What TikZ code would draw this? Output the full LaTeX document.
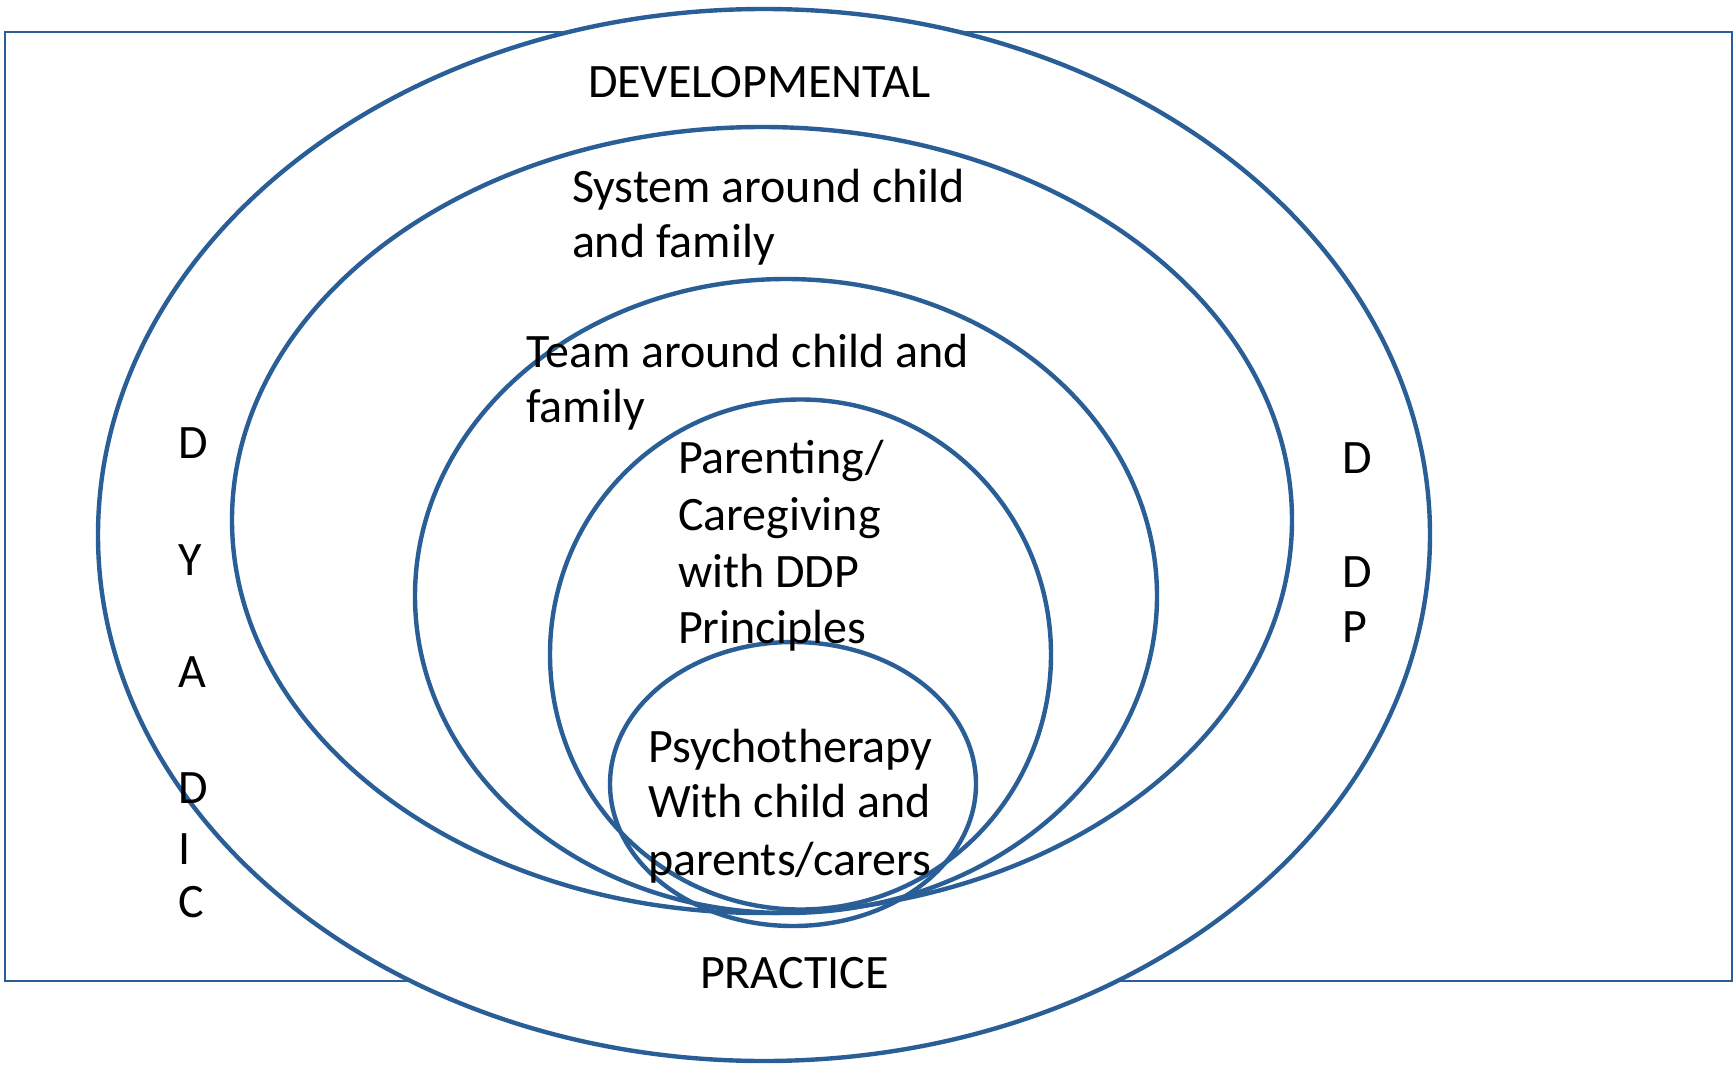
\documentclass[tikz,border=0pt]{standalone}
\usepackage{fontspec}
\setmainfont{Carlito}
\definecolor{ringblue}{RGB}{42,94,150}
\begin{document}
\begin{tikzpicture}[x=1pt,y=-1pt,
  ring/.style={draw=ringblue,line width=4.4pt},
  frame/.style={draw=ringblue,line width=2pt},
  lbl/.style={anchor=base west,inner sep=0pt,outer sep=0pt,font=\fontsize{48}{55}\selectfont,text=black}]
\useasboundingbox (0,0) rectangle (1735,1066);
% frame
\draw[frame] (5,32) rectangle (1732,981);
% rings
\draw[ring,fill=white] (764,535) ellipse [x radius=666,y radius=526];
\draw[ring] (762,520) ellipse [x radius=530,y radius=393];
\draw[ring] (786,596) ellipse [x radius=371,y radius=317];
\draw[ring] (800.5,654.5) ellipse [x radius=250.5,y radius=255];
\draw[ring] (793,784) ellipse [x radius=183,y radius=142];
% texts
\node[lbl] (dev) at (588,97) {DEVELOPMENTAL};
\node[lbl] (sysa) at (572,202) {System around child};
\node[lbl] (sysb) at (572,257) {and family};
\node[lbl] (teama) at (526,367) {Team around child and};
\node[lbl] (teamb) at (526,422) {family};
\node[lbl] (para) at (678,473) {Parenting/};
\node[lbl] (parb) at (678,530) {Caregiving};
\node[lbl] (parc) at (678,587) {with DDP};
\node[lbl] (pard) at (678,643) {Principles};
\node[lbl] (psya) at (648,762) {Psychotherapy};
\node[lbl] (psyb) at (648,817) {With child and};
\node[lbl] (psyc) at (648,875) {parents/carers};
\node[lbl] (prac) at (700,988) {PRACTICE};
% DYADIC
\node[lbl] (dy1) at (178,458) {D};
\node[lbl] (dy2) at (178,575) {Y};
\node[lbl] (dy3) at (178,687) {A};
\node[lbl] (dy4) at (178,803) {D};
\node[lbl] (dy5) at (178,864) {I};
\node[lbl] (dy6) at (178,917) {C};
% DDP
\node[lbl] (dd1) at (1342,473) {D};
\node[lbl] (dd2) at (1342,587) {D};
\node[lbl] (dd3) at (1342,642) {P};
\end{tikzpicture}
\end{document}
